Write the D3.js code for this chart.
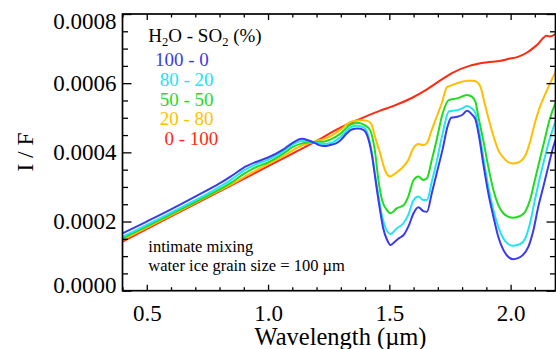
<!DOCTYPE html>
<html><head><meta charset="utf-8">
<script src="https://cdn.jsdelivr.net/npm/d3@7"></script>
<style>
html,body{margin:0;padding:0;background:#fff;}
svg{display:block;}
text{font-family:"Liberation Serif","Times New Roman",Times,serif;white-space:pre;}
</style></head><body>
<svg id="c" width="556" height="349"></svg>
<script>
// ---- data (wavelength in µm, I/F) ----
const xTicks = [0.5, 1.0, 1.5, 2.0];
const yTicks = [0.0000, 0.0002, 0.0004, 0.0006, 0.0008];
const seriesLabels = ["100 - 0", " 80 - 20", " 50 - 50", " 20 - 80", "  0 - 100"];

const h2o100 = [[0.40,1.66e-4],[0.50,2.00e-4],[0.60,2.35e-4],[0.70,2.72e-4],[0.80,3.10e-4],[0.85,3.32e-4],[0.90,3.56e-4],[0.95,3.72e-4],[1.00,3.85e-4],[1.06,4.07e-4],[1.10,4.27e-4],[1.14,4.39e-4],[1.165,4.35e-4],[1.19,4.28e-4],[1.21,4.21e-4],[1.23,4.18e-4],[1.256,4.21e-4],[1.28,4.26e-4],[1.30,4.36e-4],[1.325,4.55e-4],[1.345,4.66e-4],[1.37,4.69e-4],[1.393,4.65e-4],[1.415,4.35e-4],[1.43,3.85e-4],[1.445,3.10e-4],[1.46,2.40e-4],[1.475,1.80e-4],[1.49,1.48e-4],[1.505,1.32e-4],[1.52,1.40e-4],[1.54,1.52e-4],[1.56,1.62e-4],[1.58,1.88e-4],[1.60,2.24e-4],[1.62,2.41e-4],[1.64,2.30e-4],[1.655,2.28e-4],[1.675,2.82e-4],[1.695,3.39e-4],[1.72,4.10e-4],[1.74,4.75e-4],[1.755,5.00e-4],[1.78,5.03e-4],[1.80,5.08e-4],[1.82,5.20e-4],[1.84,5.10e-4],[1.855,4.95e-4],[1.87,4.45e-4],[1.887,3.68e-4],[1.908,2.82e-4],[1.929,2.14e-4],[1.949,1.56e-4],[1.97,1.18e-4],[1.99,0.98e-4],[2.01,0.91e-4],[2.03,0.94e-4],[2.05,1.03e-4],[2.073,1.27e-4],[2.094,1.75e-4],[2.114,2.43e-4],[2.135,3.01e-4],[2.155,3.58e-4],[2.176,4.16e-4],[2.19,4.45e-4]];

const h2o80 = [[0.40,1.56e-4],[0.60,2.26e-4],[0.80,3.00e-4],[0.85,3.22e-4],[0.90,3.47e-4],[0.95,3.65e-4],[1.00,3.78e-4],[1.06,4.02e-4],[1.10,4.22e-4],[1.14,4.33e-4],[1.17,4.32e-4],[1.20,4.28e-4],[1.23,4.24e-4],[1.26,4.27e-4],[1.30,4.45e-4],[1.345,4.74e-4],[1.37,4.77e-4],[1.395,4.72e-4],[1.41,4.55e-4],[1.425,4.10e-4],[1.44,3.40e-4],[1.455,2.75e-4],[1.47,2.15e-4],[1.485,1.80e-4],[1.505,1.64e-4],[1.53,1.80e-4],[1.558,1.95e-4],[1.578,2.19e-4],[1.60,2.62e-4],[1.62,2.72e-4],[1.64,2.62e-4],[1.655,2.62e-4],[1.675,3.15e-4],[1.695,3.73e-4],[1.72,4.55e-4],[1.745,5.18e-4],[1.78,5.22e-4],[1.80,5.27e-4],[1.82,5.34e-4],[1.84,5.27e-4],[1.855,5.13e-4],[1.867,4.74e-4],[1.887,3.87e-4],[1.908,3.01e-4],[1.929,2.33e-4],[1.949,1.85e-4],[1.97,1.51e-4],[1.99,1.35e-4],[2.01,1.30e-4],[2.04,1.35e-4],[2.06,1.51e-4],[2.08,1.95e-4],[2.10,2.62e-4],[2.12,3.25e-4],[2.14,3.83e-4],[2.16,4.36e-4],[2.19,5.00e-4]];

const h2o50 = [[0.40,1.51e-4],[0.60,2.21e-4],[0.80,2.93e-4],[0.85,3.13e-4],[0.90,3.38e-4],[0.95,3.57e-4],[1.00,3.71e-4],[1.06,3.95e-4],[1.10,4.15e-4],[1.14,4.26e-4],[1.17,4.29e-4],[1.20,4.31e-4],[1.23,4.31e-4],[1.26,4.38e-4],[1.30,4.55e-4],[1.345,4.82e-4],[1.375,4.85e-4],[1.40,4.78e-4],[1.42,4.65e-4],[1.44,4.07e-4],[1.455,3.20e-4],[1.47,2.62e-4],[1.49,2.33e-4],[1.505,2.24e-4],[1.53,2.38e-4],[1.56,2.48e-4],[1.578,2.72e-4],[1.60,3.20e-4],[1.62,3.30e-4],[1.64,3.20e-4],[1.655,3.25e-4],[1.675,3.78e-4],[1.695,4.36e-4],[1.72,5.13e-4],[1.745,5.51e-4],[1.78,5.56e-4],[1.82,5.66e-4],[1.84,5.61e-4],[1.855,5.46e-4],[1.867,5.03e-4],[1.887,4.36e-4],[1.908,3.58e-4],[1.929,2.91e-4],[1.949,2.48e-4],[1.97,2.24e-4],[1.99,2.14e-4],[2.01,2.11e-4],[2.04,2.16e-4],[2.06,2.28e-4],[2.08,2.62e-4],[2.10,3.20e-4],[2.12,3.78e-4],[2.14,4.36e-4],[2.16,4.93e-4],[2.19,5.52e-4]];

const h2o20 = [[0.40,1.47e-4],[0.60,2.18e-4],[0.80,2.90e-4],[0.85,3.08e-4],[0.90,3.28e-4],[0.95,3.48e-4],[1.00,3.66e-4],[1.06,3.88e-4],[1.10,4.05e-4],[1.14,4.20e-4],[1.17,4.27e-4],[1.20,4.33e-4],[1.23,4.38e-4],[1.26,4.48e-4],[1.30,4.66e-4],[1.345,4.89e-4],[1.39,4.93e-4],[1.41,4.91e-4],[1.427,4.80e-4],[1.441,4.45e-4],[1.462,3.97e-4],[1.482,3.49e-4],[1.503,3.30e-4],[1.524,3.39e-4],[1.551,3.54e-4],[1.578,3.78e-4],[1.599,4.12e-4],[1.62,4.24e-4],[1.64,4.21e-4],[1.654,4.26e-4],[1.675,4.65e-4],[1.695,5.03e-4],[1.716,5.42e-4],[1.737,5.88e-4],[1.75,5.92e-4],[1.785,6.01e-4],[1.82,6.07e-4],[1.847,6.07e-4],[1.867,6.00e-4],[1.878,5.85e-4],[1.89,5.50e-4],[1.91,4.95e-4],[1.93,4.45e-4],[1.95,4.05e-4],[1.97,3.85e-4],[1.99,3.72e-4],[2.01,3.68e-4],[2.04,3.74e-4],[2.06,3.90e-4],[2.08,4.30e-4],[2.10,4.85e-4],[2.12,5.30e-4],[2.15,5.80e-4],[2.19,6.40e-4]];

const h2o0 = [[0.40,1.42e-4],[0.60,2.15e-4],[0.80,2.87e-4],[1.00,3.60e-4],[1.20,4.33e-4],[1.30,4.72e-4],[1.38,4.97e-4],[1.46,5.20e-4],[1.52,5.35e-4],[1.60,5.60e-4],[1.65,5.80e-4],[1.71,6.08e-4],[1.76,6.30e-4],[1.83,6.50e-4],[1.90,6.60e-4],[1.96,6.65e-4],[1.99,6.70e-4],[2.03,6.76e-4],[2.066,6.88e-4],[2.108,7.10e-4],[2.149,7.37e-4],[2.162,7.35e-4],[2.19,7.45e-4]];

const series = [h2o100, h2o80, h2o50, h2o20, h2o0];
const colors = ["#3b3bec", "#22e4f2", "#1fdc1f", "#ffbf00", "#ff2a12"];

// ---- layout ----
const L = 122.5, R = 555.5, T = 14, B = 290.7;
const svg = d3.select("#c");
const x = d3.scaleLinear().domain([0.4, 2.185]).range([L, R]);
const y = d3.scaleLinear().domain([0, 0.0008]).range([B, T]);

svg.append("defs").append("clipPath").attr("id","clip")
  .append("rect").attr("x",L).attr("y",T).attr("width",R-L).attr("height",B-T);

const line = d3.line().x(d=>x(d[0])).y(d=>y(d[1])).curve(d3.curveMonotoneX);
const g = svg.append("g").attr("clip-path","url(#clip)");
series.slice().reverse().forEach((s,i)=>{
  const idx = series.length-1-i;
  g.append("path").datum(s).attr("d",line).attr("fill","none")
    .attr("stroke",colors[idx]).attr("stroke-width",2).attr("stroke-linejoin","round");
});

// axes
const xMinor = d3.range(0.4, 2.19, 0.1).filter(v=>!xTicks.some(t=>Math.abs(t-v)<1e-6));
const yMinor = d3.range(0, 0.00081, 0.00005).filter(v=>!yTicks.some(t=>Math.abs(t-v)<1e-9));
const font = '"Liberation Serif","Times New Roman",serif';

function styleAxis(sel){
  sel.select(".domain").remove();
  sel.selectAll("line").attr("stroke","#000").attr("stroke-width",1.3);
  sel.selectAll("text").attr("fill","#000").attr("font-family",font);
}
// bottom
svg.append("g").attr("transform",`translate(0,${B})`)
  .call(d3.axisBottom(x).tickValues(xTicks).tickSize(-6).tickPadding(13.5).tickFormat(d3.format(".1f")))
  .call(styleAxis).call(s=>s.selectAll("text").attr("font-size",23));
svg.append("g").attr("transform",`translate(0,${B})`)
  .call(d3.axisBottom(x).tickValues(xMinor).tickSize(-3.5).tickFormat(""))
  .call(styleAxis);
// top
svg.append("g").attr("transform",`translate(0,${T})`)
  .call(d3.axisTop(x).tickValues(xTicks).tickSize(-6).tickFormat(""))
  .call(styleAxis);
svg.append("g").attr("transform",`translate(0,${T})`)
  .call(d3.axisTop(x).tickValues(xMinor).tickSize(-3.5).tickFormat(""))
  .call(styleAxis);
// left
svg.append("g").attr("transform",`translate(${L},0)`)
  .call(d3.axisLeft(y).tickValues(yTicks).tickSize(-9).tickPadding(6).tickFormat(d3.format(".4f")))
  .call(styleAxis)
  .call(s=>s.selectAll("text").attr("font-size",23)
     .attr("transform",d=> d===0.0008 ? "translate(0,7)" : (d===0 ? "translate(0,-6)" : null)));
svg.append("g").attr("transform",`translate(${L},0)`)
  .call(d3.axisLeft(y).tickValues(yMinor).tickSize(-5.5).tickFormat(""))
  .call(styleAxis);
// right
svg.append("g").attr("transform",`translate(${R},0)`)
  .call(d3.axisRight(y).tickValues(yTicks).tickSize(-9).tickFormat(""))
  .call(styleAxis);
svg.append("g").attr("transform",`translate(${R},0)`)
  .call(d3.axisRight(y).tickValues(yMinor).tickSize(-5.5).tickFormat(""))
  .call(styleAxis);

// frame
svg.append("rect").attr("x",L).attr("y",T).attr("width",R-L).attr("height",B-T)
  .attr("fill","none").attr("stroke","#000").attr("stroke-width",1.7);

// axis titles
svg.append("text").attr("x",(L+R)/2+1.5).attr("y",345).attr("text-anchor","middle")
  .attr("font-size",24.5).text("Wavelength (µm)");
svg.append("text").attr("transform","translate(33,152) rotate(-90)").attr("text-anchor","middle")
  .attr("font-size",23.5).text("I / F");

// legend
const lt = svg.append("text").attr("x",148.3).attr("y",41.7).attr("font-size",19).attr("fill","#000");
lt.append("tspan").text("H");
lt.append("tspan").attr("font-size",12.5).attr("dy",4).text("2");
lt.append("tspan").attr("dy",-4).text("O - SO");
lt.append("tspan").attr("font-size",12.5).attr("dy",4).text("2");
lt.append("tspan").attr("dy",-4).text(" (%)");

seriesLabels.forEach((t,i)=>{
  svg.append("text").attr("x",155).attr("y",66 + i*19.8).attr("font-size",19)
    .attr("fill",colors[i]).text(t);
});

// annotation
svg.append("text").attr("x",148.3).attr("y",252).attr("font-size",16.5).text("intimate mixing");
svg.append("text").attr("x",148.3).attr("y",270.5).attr("font-size",16.5).text("water ice grain size = 100 µm");
</script>
</body></html>
